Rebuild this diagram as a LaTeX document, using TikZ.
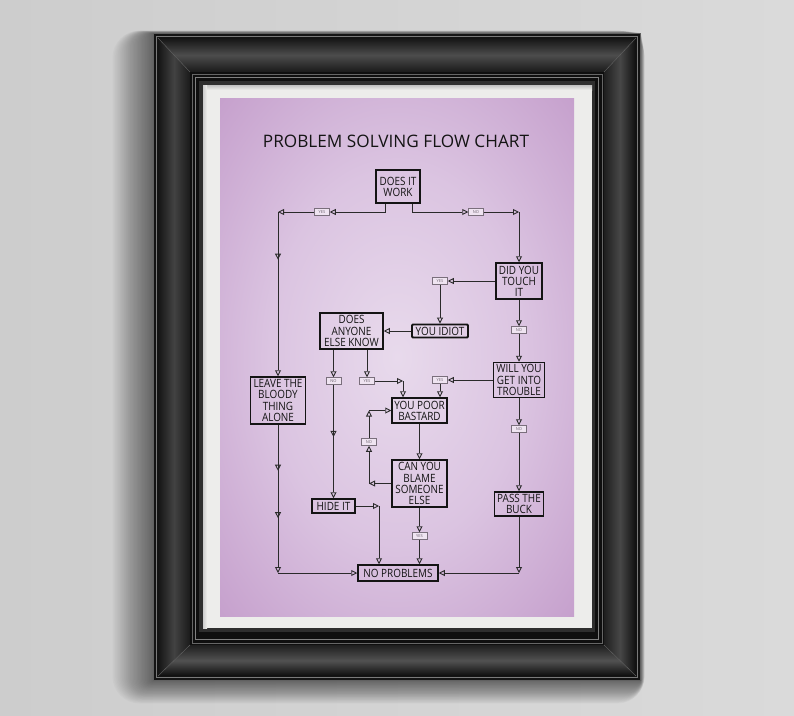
\documentclass[tikz,border=0pt]{standalone}
\usepackage{fontspec}
\setmainfont{Open Sans}
\newfontfamily\boxfont[FakeStretch=0.87]{Open Sans}
\usetikzlibrary{arrows.meta,decorations.markings,calc}
\definecolor{wallL}{HTML}{CDCDCD}
\definecolor{wallR}{HTML}{DADADA}
\definecolor{mat}{HTML}{EDEDEB}
\definecolor{pin}{HTML}{E8DAEC}
\definecolor{pmid}{HTML}{DBC4E1}
\definecolor{pout}{HTML}{C59FCC}
\definecolor{ink}{HTML}{141414}
\definecolor{ink2}{HTML}{2A2A2A}
\definecolor{labline}{HTML}{7A6F7C}
\definecolor{labfill}{HTML}{EFE4F1}
\definecolor{labtext}{HTML}{6A606C}
\pgfdeclareradialshading{posterbg}{\pgfpoint{0bp}{0bp}}{color(0bp)=(pin); color(18bp)=(pmid); color(36bp)=(pout); color(50bp)=(pout)}
\tikzset{
  otri/.tip={Triangle[open,length=6pt,width=6pt]},
  box/.style={draw=ink, line width=1.5pt, inner sep=0pt, align=center,
    font=\boxfont\fontsize{11.4}{11.1}\selectfont, text=ink},
  lab/.style={draw=labline, fill=labfill, line width=0.5pt, inner sep=0pt,
    minimum width=15pt, minimum height=7pt, font=\fontsize{4}{4}\selectfont, text=labtext},
  conn/.style={draw=ink2, line width=0.9pt, -otri},
  midone/.style={postaction={decorate,decoration={markings,
    mark=at position #1 with {\arrow{otri}}}}},
  midtwo/.style 2 args={postaction={decorate,decoration={markings,
    mark=at position #1 with {\arrow{otri}},
    mark=at position #2 with {\arrow{otri}}}}},
}
\begin{document}
\begin{tikzpicture}[x=1pt,y=-1pt]
\useasboundingbox (0,0) rectangle (794,715);
% wall
\shade[left color=wallL, right color=wallR] (0,0) rectangle (794,715);
% soft shadow round the frame
\foreach \i in {1,...,30}
  \fill[black, opacity=0.018, rounded corners={\i*0.9pt}]
    ({153-1.35*\i},{33-0.08*\i}) rectangle ({641+0.12*\i},{681+0.75*\i});
% frame
\fill[black!92] (153,33) rectangle (641,681);
\draw[black!62, line width=0.8pt] (153.5,33.5) rectangle (640.5,680.5);
\draw[black!52, line width=0.5pt] (156.5,36.5) rectangle (637.5,677.5);
\shade[top color=black!92, bottom color=black!90, middle color=black!70]
  (158,38) -- (636,38) -- (604,72) -- (190,72) -- cycle;
\shade[top color=black!88, bottom color=black!95, middle color=black!68]
  (158,676) -- (636,676) -- (604,645) -- (190,645) -- cycle;
\shade[left color=black!92, right color=black!90, middle color=black!74]
  (158,38) -- (190,72) -- (190,645) -- (158,676) -- cycle;
\shade[left color=black!88, right color=black!94, middle color=black!72]
  (636,38) -- (604,72) -- (604,645) -- (636,676) -- cycle;
\draw[black!60, line width=0.4pt] (158,38) -- (190,72) (636,38) -- (604,72) (158,676) -- (190,645) (636,676) -- (604,645);
\fill[black!94] (190,72) rectangle (604,645);
\draw[black!60, line width=0.5pt] (192,74) rectangle (602,643);
\draw[black!50, line width=0.5pt] (195.5,77.5) rectangle (598.5,639.5);
\fill[black!82] (199,81) rectangle (595,632);
\fill[mat] (203,85) rectangle (592,628);
\shade[top color=black!25, bottom color=mat] (203,85) rectangle (592,90);
\shade[left color=black!20, right color=mat] (203,85) rectangle (207,628);
% poster
\shade[shading=posterbg] (220,98) rectangle (574,616);

% title
\node[font=\fontsize{17.2}{17.2}\selectfont, text=ink] (title) at (396,141) {PROBLEM SOLVING FLOW CHART};

% boxes
\node[box, minimum width=44, minimum height=33] (work) at (398,186.5) {DOES IT\\WORK};
\node[box, minimum width=46, minimum height=36] (touch) at (519,281) {DID YOU\\TOUCH\\IT};
\node[box, minimum width=56, minimum height=13, line width=1.9pt, rounded corners=1pt] (idiot) at (440,331) {YOU IDIOT};
\node[box, minimum width=63, minimum height=36] (anyone) at (351.5,331) {DOES\\ANYONE\\ELSE KNOW};
\node[box, minimum width=51, minimum height=35] (trouble) at (519,380) {WILL YOU\\GET INTO\\TROUBLE};
\node[box, minimum width=55, minimum height=47] (leave) at (278,400.5) {LEAVE THE\\BLOODY\\THING\\ALONE};
\node[box, minimum width=55, minimum height=25] (poor) at (419.5,410.5) {YOU POOR\\BASTARD};
\node[box, minimum width=55, minimum height=47] (blame) at (419.5,483.5) {CAN YOU\\BLAME\\SOMEONE\\ELSE};
\node[box, minimum width=43, minimum height=14] (hide) at (333.5,506) {HIDE IT};
\node[box, minimum width=49, minimum height=24] (buck) at (519,504) {PASS THE\\BUCK};
\node[box, minimum width=80, minimum height=16] (noprob) at (398,573) {NO PROBLEMS};

% labels
\node[lab] (yes1) at (322,212) {YES};
\node[lab] (no1) at (476,212) {NO};
\node[lab] (yes2) at (440,281) {YES};
\node[lab] (no2) at (519,330) {NO};
\node[lab] (no3) at (333.5,381) {NO};
\node[lab] (yes3) at (367,381) {YES};
\node[lab] (yes4) at (440,380) {YES};
\node[lab] (no4) at (519,429) {NO};
\node[lab] (no5) at (369,442) {NO};
\node[lab] (yes5) at (419.5,536) {YES};

% corners
\coordinate (cL) at (278,212);
\coordinate (cR) at (519,212);
\coordinate (cP) at (403,381);
\coordinate (cN1) at (369,483.5);
\coordinate (cN2) at (369,410.5);
\coordinate (cB) at (519,573);
\coordinate (cH) at (379,506);
\coordinate (cLB) at (278,573);

% connectors
\draw[conn] ([xshift=-13pt]work.south) |- (yes1.east);
\draw[conn] (yes1.west) -- (cL);
\draw[conn, midone=0.29] (cL) -- (leave.north);
\draw[conn] ([xshift=14pt]work.south) |- (no1.west);
\draw[conn] (no1.east) -- (cR);
\draw[conn] (cR) -- (touch.north);
\draw[conn] (touch.west) -- (yes2.east);
\draw[conn] (yes2.south) -- (idiot.north);
\draw[conn] (idiot.west) -- (anyone.east);
\draw[conn] (touch.south) -- (no2.north);
\draw[conn] (no2.south) -- (trouble.north);
\draw[conn] (trouble.west) -- (yes4.east);
\draw[conn] (yes4.south) -- (yes4.south |- poor.north);
\draw[conn] (no3.north |- anyone.south) -- (no3.north);
\draw[conn] (yes3.north |- anyone.south) -- (yes3.north);
\draw[conn, midone=0.46] (no3.south) -- (hide.north);
\draw[conn] (yes3.east) -- (cP);
\draw[conn] (cP) -- (cP |- poor.north);
\draw[conn] (poor.south) -- (blame.north);
\draw[conn] (blame.west) -- (cN1);
\draw[conn] (cN1) -- (no5.south);
\draw[conn] (no5.north) -- (cN2);
\draw[conn] (cN2) -- (poor.west);
\draw[conn] (blame.south) -- (yes5.north);
\draw[conn] (yes5.south) -- (yes5.south |- noprob.north);
\draw[conn] (trouble.south) -- (no4.north);
\draw[conn] (no4.south) -- (buck.north);
\draw[conn] (buck.south) -- (cB);
\draw[conn] (cB) -- (noprob.east);
\draw[conn] (hide.east) -- (cH);
\draw[conn] (cH) -- (cH |- noprob.north);
\draw[conn, midtwo={0.31}{0.63}] (leave.south) -- (cLB);
\draw[conn] (cLB) -- (noprob.west);
\end{tikzpicture}
\end{document}
